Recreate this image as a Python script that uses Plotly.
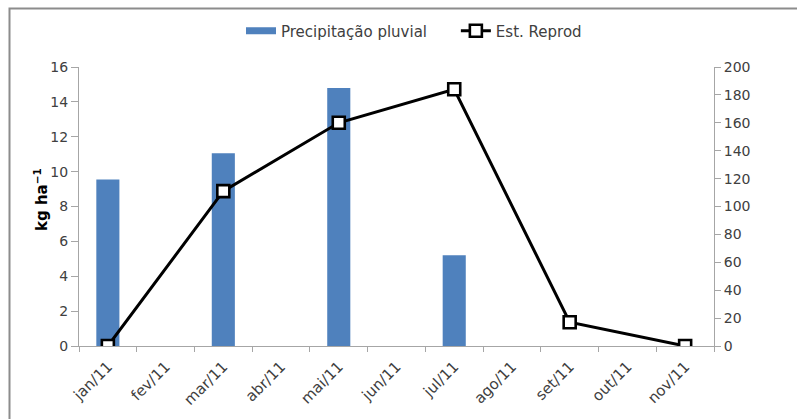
import plotly.graph_objects as go

# Monthly categories
months = ["jan/11", "fev/11", "mar/11", "abr/11", "mai/11", "jun/11",
          "jul/11", "ago/11", "set/11", "out/11", "nov/11"]

# Rainfall bars (left axis, kg ha-1)
precip = [9.55, None, 11.05, None, 14.8, None, 5.2, None, None, None, None]

# Reproductive stage line (right axis)
est_reprod = [0, None, 111, None, 160, None, 184, None, 17, None, 0]

y_ticks_left = list(range(0, 17, 2))
y_ticks_right = list(range(0, 201, 20))

FONT = "'DejaVu Sans', sans-serif"
AXIS_GREY = "#a6a6a6"
TEXT = "#404040"
BAR_BLUE = "#4F81BD"
GAP = "\u00a0" * 5  # spacing between legend entries

# Plot area geometry in pixels
L, R, T, B = 79, 83, 67, 73
W, H = 797, 419
pw, ph = W - L - R, H - T - B


def px_x(x):
    return (x - L) / pw


def px_y(y):
    return (H - B - y) / ph


fig = go.Figure()

fig.add_trace(go.Bar(
    x=months, y=precip, name="Precipitação pluvial",
    marker=dict(color=BAR_BLUE, line=dict(width=0)),
    yaxis="y", showlegend=False, legendgroup="precip",
))

# Legend entry for the bars, drawn as a wide flat swatch
fig.add_trace(go.Scatter(
    x=[None], y=[None], name="Precipitação pluvial" + GAP,
    mode="lines", line=dict(color=BAR_BLUE, width=7),
    legendgroup="precip", hoverinfo="skip",
))

fig.add_trace(go.Scatter(
    x=months, y=est_reprod, name="Est. Reprod",
    mode="lines+markers", connectgaps=True,
    line=dict(color="black", width=3),
    marker=dict(symbol="square", size=12, color="white",
                line=dict(color="black", width=2.6)),
    yaxis="y2",
))

# Chart frame: left and top edges
fig.add_shape(
    type="path", xref="paper", yref="paper",
    path=f"M {px_x(9.5)} {px_y(419)} L {px_x(9.5)} {px_y(8.5)} L {px_x(797)} {px_y(8.5)}",
    line=dict(color="#8c8c8c", width=2), layer="below",
)

# Left axis title
fig.add_annotation(
    xref="paper", yref="paper", x=px_x(41), y=px_y(200),
    text="<b>kg ha<sup>−1</sup></b>", textangle=-90, showarrow=False,
    font=dict(family=FONT, size=15, color="black"),
    xanchor="center", yanchor="middle",
)

fig.update_layout(
    width=W, height=H,
    margin=dict(l=L, r=R, t=T, b=B, pad=0, autoexpand=False),
    paper_bgcolor="white", plot_bgcolor="white",
    font=dict(family=FONT, size=13, color=TEXT),
    bargap=0.6,
    showlegend=True,
    legend=dict(orientation="h", x=px_x(414), xanchor="center", y=px_y(31), yanchor="middle",
                font=dict(family=FONT, size=15, color=TEXT),
                itemwidth=30, traceorder="normal", bgcolor="rgba(0,0,0,0)"),
    xaxis=dict(
        type="category", categoryorder="array", categoryarray=months,
        range=[-0.5, len(months) - 0.5], autorange=False,
        tickangle=-45, tickson="boundaries", ticks="outside", ticklen=5,
        ticklabelstandoff=5,
        tickcolor=AXIS_GREY, showline=True, linecolor=AXIS_GREY, linewidth=1,
        showgrid=False, zeroline=False,
        tickfont=dict(family=FONT, size=15, color=TEXT),
    ),
    yaxis=dict(
        range=[0, 16], tickvals=y_ticks_left, ticks="outside", ticklen=7,
        tickcolor=AXIS_GREY, showline=True, linecolor=AXIS_GREY, linewidth=1,
        showgrid=False, zeroline=False,
        tickfont=dict(family=FONT, size=14, color=TEXT),
    ),
    yaxis2=dict(
        range=[0, 200], tickvals=y_ticks_right, overlaying="y", side="right",
        ticks="outside", ticklen=6, tickcolor=AXIS_GREY,
        showline=True, linecolor=AXIS_GREY, linewidth=1,
        showgrid=False, zeroline=False,
        tickfont=dict(family=FONT, size=14, color=TEXT),
    ),
)

fig.write_html("out.html")
